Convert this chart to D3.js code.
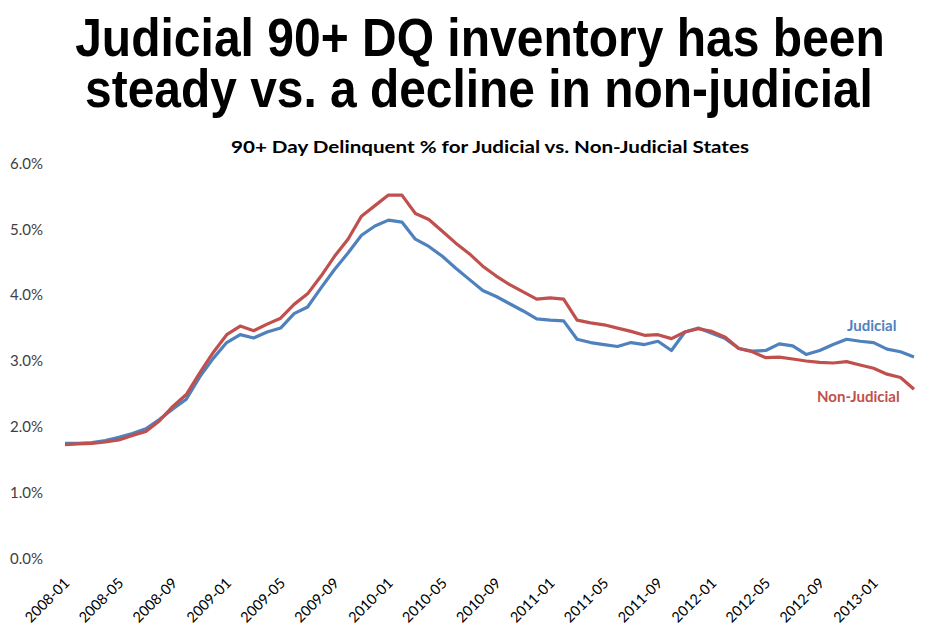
<!DOCTYPE html>
<html>
<head>
<meta charset="utf-8">
<script src="https://cdn.jsdelivr.net/npm/d3@7"></script>
<style>
  html, body { margin: 0; padding: 0; background: #fff; }
  svg { display: block; }
</style>
</head>
<body>
<svg id="chart" width="941" height="637"></svg>
<script>
// ---- data ----
const months = [];
for (let y = 2008; y <= 2013; y++) {
  for (let m = 1; m <= 12; m++) {
    if (y === 2013 && m > 4) break;
    months.push(y + "-" + String(m).padStart(2, "0"));
  }
}
const judicial = [
  1.75, 1.75, 1.76, 1.79, 1.84, 1.90, 1.97, 2.11, 2.27, 2.42,
  2.76, 3.04, 3.28, 3.40, 3.35, 3.44, 3.50, 3.72, 3.82, 4.11,
  4.39, 4.64, 4.91, 5.05, 5.14, 5.11, 4.85, 4.74, 4.59, 4.41,
  4.24, 4.07, 3.98, 3.87, 3.76, 3.64, 3.62, 3.61, 3.33, 3.28,
  3.25, 3.22, 3.28, 3.25, 3.30, 3.16, 3.44, 3.50, 3.42, 3.34,
  3.19, 3.15, 3.16, 3.26, 3.23, 3.10, 3.16, 3.25, 3.33, 3.30,
  3.28, 3.18, 3.14, 3.06
];
const nonJudicial = [
  1.73, 1.74, 1.75, 1.77, 1.80, 1.87, 1.93, 2.09, 2.31, 2.49,
  2.82, 3.13, 3.40, 3.53, 3.46, 3.56, 3.65, 3.86, 4.02, 4.29,
  4.59, 4.85, 5.20, 5.36, 5.52, 5.52, 5.24, 5.15, 4.97, 4.79,
  4.63, 4.44, 4.29, 4.16, 4.05, 3.94, 3.96, 3.94, 3.62, 3.58,
  3.55, 3.50, 3.45, 3.39, 3.40, 3.34, 3.44, 3.49, 3.45, 3.36,
  3.19, 3.14, 3.05, 3.06, 3.03, 3.00, 2.98, 2.97, 2.99, 2.94,
  2.89, 2.80, 2.75, 2.57
];
const yTicks = [0, 1, 2, 3, 4, 5, 6];
const xTickLabels = months.filter((d, i) => i % 4 === 0 && i <= 60);
const titleLines = ["Judicial 90+ DQ inventory has been", "steady vs. a decline in non-judicial"];
const subtitle = "90+ Day Delinquent % for Judicial vs. Non-Judicial States";
const seriesNames = ["Judicial", "Non-Judicial"];

// ---- drawing ----
const svg = d3.select("#chart");
const colors = { "Judicial": "#4F81BD", "Non-Judicial": "#C0504D" };

const x = d3.scalePoint().domain(months).range([65, 914]);
const y = d3.scaleLinear().domain([0, 6]).range([558.5, 163.5]);

// Title (scaled horizontally to fit the reference widths)
const titleFont = "'Liberation Sans Narrow', 'Arial Narrow', 'Liberation Sans', Arial, sans-serif";
const titleSpecs = [
  { text: titleLines[0], cx: 480, y: 56, w: 810 },
  { text: titleLines[1], cx: 479, y: 107, w: 788 }
];
titleSpecs.forEach(s => {
  const g = svg.append("g");
  const t = g.append("text").attr("x", 0).attr("y", 0)
    .attr("text-anchor", "middle")
    .attr("font-family", titleFont).attr("font-weight", "bold").attr("font-size", 54)
    .attr("fill", "#000").text(s.text);
  const nat = t.node().getComputedTextLength();
  const sx = s.w / nat;
  g.attr("transform", `translate(${s.cx},${s.y}) scale(${sx},1)`);
});

// Subtitle
svg.append("text").attr("x", 490).attr("y", 153)
  .attr("text-anchor", "middle")
  .attr("font-family", "Lato, 'Open Sans', sans-serif").attr("font-weight", "bold").attr("font-size", 17)
  .attr("textLength", 518).attr("lengthAdjust", "spacingAndGlyphs")
  .attr("fill", "#000").text(subtitle);

// Y axis
const yAxis = d3.axisLeft(y).tickValues(yTicks).tickFormat(d => d.toFixed(1) + "%").tickSize(0).tickPadding(0);
const gy = svg.append("g").attr("transform", "translate(43,0)").call(yAxis);
gy.select(".domain").remove();
gy.selectAll("text")
  .attr("font-family", "Lato, 'Open Sans', sans-serif").attr("font-size", 15)
  .attr("fill", "#404040");

// X axis
const xAxis = d3.axisBottom(x).tickValues(xTickLabels).tickSize(0);
const gx = svg.append("g").attr("transform", "translate(0,584)").call(xAxis);
gx.select(".domain").remove();
gx.selectAll("text")
  .attr("font-family", "Lato, 'Open Sans', sans-serif").attr("font-size", 14.5)
  .attr("fill", "#000")
  .attr("text-anchor", "end")
  .attr("y", 0).attr("dy", 0)
  .attr("transform", "translate(5,0) rotate(-45)");

// Lines
const line = d3.line().x((d, i) => x(months[i])).y(d => y(d));
[[judicial, "Judicial"], [nonJudicial, "Non-Judicial"]].forEach(([vals, name]) => {
  svg.append("path").datum(vals)
    .attr("fill", "none")
    .attr("stroke", colors[name])
    .attr("stroke-width", 3.2)
    .attr("stroke-linejoin", "round")
    .attr("d", line);
});

// Series labels
svg.append("text").attr("x", 847).attr("y", 331)
  .attr("font-family", "Lato, 'Open Sans', sans-serif").attr("font-weight", "bold").attr("font-size", 15)
  .attr("fill", colors["Judicial"]).text(seriesNames[0]);
svg.append("text").attr("x", 817).attr("y", 402)
  .attr("font-family", "Lato, 'Open Sans', sans-serif").attr("font-weight", "bold").attr("font-size", 15)
  .attr("fill", colors["Non-Judicial"]).text(seriesNames[1]);
</script>
</body>
</html>
